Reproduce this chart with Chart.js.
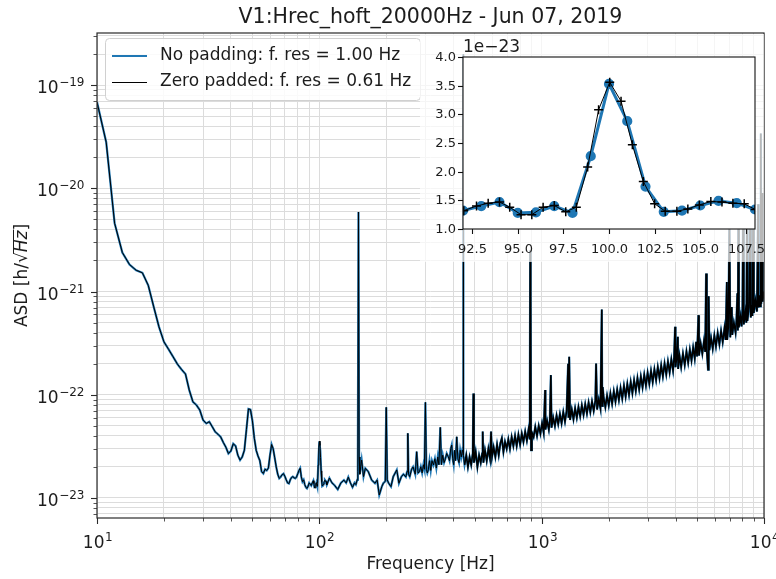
<!DOCTYPE html>
<html>
<head>
<meta charset="utf-8">
<title>V1 ASD</title>
<script src="https://cdn.jsdelivr.net/npm/chart.js@4.4.1/dist/chart.umd.min.js"></script>
<style>
  html, body { margin: 0; padding: 0; background: #fff; }
  #wrap { position: relative; width: 776px; height: 579px; }
  #main { position: absolute; left: 0; top: 0; }
  #inset { position: absolute; left: 420px; top: 34px; }
</style>
</head>
<body>
<div id="wrap">
  <canvas id="main" width="776" height="579"></canvas>
  <canvas id="inset" width="344" height="228"></canvas>
</div>
<script>
// ASD values are written in units of 1e-23 1/sqrt(Hz)
const UNIT = 1e-23;

// low frequency wall, 1 Hz bins
const lowFreq = [10, 11, 12, 13, 14, 15, 16, 17, 18, 19, 20, 21, 22, 23, 24, 25, 26, 27, 28, 29,
  30, 31, 32, 33, 34, 35, 36, 37, 38, 39, 40, 41, 42, 43, 44, 45, 46, 47, 48, 49,
  50, 51, 52, 53, 54, 55, 56, 57, 58, 59, 60, 61, 62, 63, 64, 65, 66, 67, 68, 69,
  70, 71, 72, 73, 74, 75, 76, 77, 78, 79, 80, 81, 82, 83, 84, 85, 86, 87, 88, 89, 90, 91];
const lowAsd = [6850, 2800, 460, 239, 183, 161, 152, 115, 71, 45.5,
  32.6, 27.5, 23.3, 19.8, 17.6, 15.9, 11.1, 8.55, 7.95, 7.11,
  5.69, 5.28, 5.48, 4.9, 4.38, 4.15, 3.9, 3.45, 3.1, 2.7,
  2.85, 3.35, 3.2, 2.6, 2.33, 2.5, 2.9, 4.6, 7.3, 7.2,
  5.6, 3.8, 2.9, 2.55, 2.3, 1.8, 1.73, 1.9, 1.85, 1.95,
  2.6, 3.3, 3.0, 2.45, 2.0, 1.7, 1.55, 1.6, 1.68, 1.72,
  1.62, 1.5, 1.4, 1.38, 1.5, 1.58, 1.61, 1.57, 1.55, 1.6,
  1.72, 1.85, 1.94, 1.6, 1.44, 1.5, 1.35, 1.27, 1.24, 1.3, 1.4, 1.36];

// the 100 Hz line (also the inset)
const zoomFreqNoPad = [92, 93, 94, 95, 96, 97, 98, 99, 100, 101, 102, 103, 104, 105, 106, 107, 108];
const zoomAsdNoPad = [1.32, 1.40, 1.47, 1.28, 1.29, 1.40, 1.28, 2.27, 3.53, 2.88, 1.74, 1.30, 1.32, 1.41, 1.49, 1.45, 1.34];
const zoomFreqPadded = [92.04, 92.74, 93.38, 94.0, 94.56, 95.18, 95.77, 96.39, 97.0, 97.63, 98.21, 98.83, 99.43,
  100.04, 100.66, 101.28, 101.88, 102.5, 103.08, 103.72, 104.32, 104.95, 105.58, 106.19, 106.79, 107.41, 108.01];
const zoomAsdPadded = [1.32, 1.40, 1.45, 1.47, 1.38, 1.25, 1.25, 1.38, 1.41, 1.30, 1.38, 2.08, 3.08,
  3.56, 3.23, 2.47, 1.83, 1.44, 1.31, 1.31, 1.35, 1.42, 1.48, 1.47, 1.45, 1.44, 1.34];

// floor with lines, 110 - 445 Hz
const midFreq = [111, 114, 117, 121, 125, 129, 132, 135, 138, 141,
  144, 146, 148, 149, 150, 151, 152, 155, 158, 161,
  166, 172, 178, 182, 186, 191, 194, 198, 200, 202,
  205, 210, 215, 223, 228, 234, 239, 245, 248, 250,
  252, 255, 260, 264, 270, 274, 278, 282, 286, 290,
  294, 297, 300, 303, 306, 309, 313, 317, 321, 326,
  331, 336, 341, 345, 350, 354, 359, 364, 369, 374,
  380, 385, 390, 394, 398, 402, 406, 410, 415, 420,
  425, 430, 435, 440, 443, 444, 445];
const midAsd = [1.56, 1.4, 1.33, 1.21, 1.4, 1.49, 1.4, 1.59, 1.4, 1.27,
  1.4, 1.35, 1.5, 1.8, 590, 2.5, 1.7, 2.33, 1.61, 1.94,
  1.8, 1.49, 1.39, 1.49, 1.07, 1.29, 1.39, 1.45, 7.55, 1.5,
  1.39, 1.29, 1.61, 1.87, 1.39, 1.61, 1.7, 1.6, 1.8, 4.23,
  1.7, 1.61, 1.9, 2.0, 1.7, 2.81, 1.75, 1.8, 2.01, 1.75,
  2.1, 1.9, 8.44, 1.9, 1.75, 1.87, 2.3, 1.85, 2.3, 2.09,
  2.4, 1.95, 2.5, 2.1, 4.83, 2.1, 2.6, 2.2, 2.4, 2.7,
  2.51, 2.3, 3.0, 3.26, 2.4, 2.1, 2.9, 2.3, 3.92, 2.4,
  2.2, 2.9, 2.5, 2.9, 2.8, 19900, 2.6];

// rising noisy band, 450 Hz - 10 kHz
const highFreq = [450, 458, 466, 474, 482, 490, 493, 496, 505, 514, 523, 532, 540, 543, 547, 556, 566, 576, 586, 592,
  598, 608, 619, 630, 641, 652, 662, 673, 684, 696, 708, 720, 733, 746, 759, 772, 786, 800, 814, 828,
  843, 858, 873, 884, 888, 892, 896, 904, 920, 936, 953, 970, 987, 1004, 1021, 1036, 1040, 1058, 1077, 1088,
  1100, 1108, 1127, 1147, 1167, 1187, 1208, 1229, 1251, 1273, 1295, 1315, 1320, 1330, 1342, 1366, 1390, 1414, 1439, 1464,
  1490, 1516, 1543, 1570, 1598, 1626, 1655, 1684, 1714, 1744, 1757, 1775, 1806, 1838, 1864, 1872, 1882, 1900, 1934, 1968,
  2003, 2038, 2074, 2111, 2148, 2186, 2225, 2264, 2304, 2345, 2386, 2428, 2471, 2515, 2559, 2604, 2650, 2697, 2745, 2793,
  2843, 2893, 2944, 2996, 3049, 3103, 3158, 3214, 3271, 3329, 3388, 3448, 3509, 3571, 3634, 3698, 3763, 3830, 3898, 3940,
  3981, 4000, 4050, 4098, 4110, 4170, 4240, 4320, 4400, 4480, 4560, 4640, 4720, 4800, 4880, 4951, 5000, 5070, 5100, 5190,
  5280, 5370, 5440, 5490, 5530, 5600, 5640, 5680, 5780, 5880, 5980, 6080, 6190, 6300, 6410, 6520, 6640, 6720, 6805, 6830,
  6910, 6990, 7050, 7161, 7200, 7320, 7450, 7520, 7590, 7630, 7670, 7710, 7850, 7930, 8000, 8054, 8110, 8250, 8330, 8395,
  8420, 8560, 8660, 8720, 8800, 8870, 8933, 9000, 9150, 9300, 9408, 9450, 9530, 9600, 9674, 9720, 9806, 9870, 9950, 10000];
const highAsd = [2.1, 2.6, 2.0, 2.5, 2.1, 2.7, 10.3, 2.2, 2.8, 2.0, 2.6, 2.2, 2.7, 4.4, 2.2, 2.9, 2.3, 3.0, 2.4, 4.4,
  2.5, 3.1, 2.5, 3.3, 2.6, 3.4, 3.8, 2.8, 3.5, 3.0, 3.7, 3.0, 3.9, 3.2, 4.0, 3.2, 4.1, 3.3, 4.2, 3.5,
  4.4, 3.6, 4.6, 3.7, 250, 92, 2.9, 4.3, 3.9, 4.9, 4.0, 5.0, 4.2, 5.3, 4.3, 11.1, 4.6, 5.6, 4.6, 5.6,
  15.5, 4.8, 6.0, 5.0, 6.3, 5.2, 6.5, 5.3, 6.8, 5.5, 7.0, 20, 6.0, 23.3, 5.7, 7.2, 5.8, 7.4, 6.0, 7.6,
  6.2, 7.9, 6.4, 8.1, 6.6, 8.4, 6.8, 8.6, 7.0, 8.8, 20.1, 7.2, 9.0, 7.4, 67, 7.8, 11.9, 9.4, 7.6, 9.8,
  7.9, 10.3, 8.2, 10.8, 8.6, 11.2, 8.9, 11.6, 9.2, 12.2, 9.6, 12.7, 10.0, 13.3, 10.4, 13.8, 10.9, 14.5, 11.3, 15.0,
  11.8, 15.6, 12.3, 16.3, 12.8, 17.0, 13.3, 17.6, 13.9, 18.5, 14.5, 19.3, 15.1, 20.1, 15.8, 21.0, 16.5, 22.0, 17.2, 22.5,
  45.5, 18.5, 23.0, 36.4, 17.8, 23.8, 18.6, 25.0, 19.5, 26.2, 20.5, 27.3, 21.5, 28.6, 22.5, 32.6, 23.5, 59.1, 24.0, 31.5,
  25.0, 33.0, 26.0, 150, 27.0, 17.5, 90.3, 27.0, 35.5, 28.0, 37.5, 29.5, 39.5, 31.0, 41.5, 32.5, 44.0, 34.0, 124, 34.0,
  45.0, 500, 36.0, 71, 38.0, 50.0, 40.0, 53.0, 96, 42.0, 600, 45.0, 58.0, 46.0, 60.0, 700, 48.0, 64.0, 50.0, 800,
  52.0, 70.0, 500, 56.0, 74.0, 58.0, 600, 62.0, 82.0, 64.0, 700, 70.0, 92.0, 72.0, 3400, 76.0, 900, 80.0, 100.0, 85.0];

// axes
const xTickExponents = [1, 2, 3, 4];
const yTickExponents = [-23, -22, -21, -20, -19];
const minorMultipliers = [2, 3, 4, 5, 6, 7, 8, 9];
const insetXTicks = [92.5, 95.0, 97.5, 100.0, 102.5, 105.0, 107.5];
const insetYTicks = [1.0, 1.5, 2.0, 2.5, 3.0, 3.5, 4.0];

const titleText = 'V1:Hrec_hoft_20000Hz - Jun 07, 2019';
const labelNoPad = 'No padding: f. res = 1.00 Hz';
const labelPadded = 'Zero padded: f. res = 0.61 Hz';

const FONT = '"DejaVu Sans", sans-serif';
const BLUE = '#1f77b4';
const TXT = '#1c1c1c';

function pts(freqs, vals, k) {
  return freqs.map((f, i) => ({ x: f, y: vals[i] * k }));
}

const noPadding = [].concat(pts(lowFreq, lowAsd, UNIT), pts(zoomFreqNoPad, zoomAsdNoPad, UNIT),
  pts(midFreq, midAsd, UNIT), pts(highFreq, highAsd, UNIT));
const zeroPadded = [].concat(pts(lowFreq, lowAsd, UNIT), pts(zoomFreqPadded, zoomAsdPadded, UNIT),
  pts(midFreq, midAsd, UNIT), pts(highFreq, highAsd, UNIT));

function logTicks(exps, lo, hi) {
  const out = [];
  for (let e = exps[0] - 1; e <= exps[exps.length - 1]; e++) {
    [1].concat(minorMultipliers).forEach(m => {
      const v = m * Math.pow(10, e);
      if (v >= lo * 0.999999 && v <= hi * 1.000001) out.push({ value: v, major: m === 1, exp: e });
    });
  }
  return out;
}

function powLabel(ctx, exp, x, y, align) {
  const base = '10', sup = String(exp).replace('-', '\u2212');
  ctx.font = '17px ' + FONT;
  const wb = ctx.measureText(base).width;
  ctx.font = '12px ' + FONT;
  const ws = ctx.measureText(sup).width;
  const x0 = align === 'center' ? x - (wb + ws) / 2 : x - (wb + ws);
  ctx.textAlign = 'left';
  ctx.textBaseline = 'alphabetic';
  ctx.font = '17px ' + FONT;
  ctx.fillText(base, x0, y);
  ctx.font = '12px ' + FONT;
  ctx.fillText(sup, x0 + wb + 0.5, y - 7.5);
}

const mainDecor = {
  id: 'mainDecor',
  beforeDraw(chart) {
    const ctx = chart.ctx;
    ctx.save();
    ctx.fillStyle = '#fff';
    ctx.fillRect(0, 0, chart.width, chart.height);
    ctx.restore();
  },
  afterDraw(chart) {
    const ctx = chart.ctx, a = chart.chartArea;
    const xs = chart.scales.x, ys = chart.scales.y;
    ctx.save();
    ctx.fillStyle = TXT;
    ctx.strokeStyle = '#2a2a2a';

    // tick marks
    xs.ticks.forEach(t => {
      const px = Math.round(xs.getPixelForValue(t.value)) + 0.5;
      ctx.lineWidth = t.major ? 1.1 : 0.8;
      ctx.beginPath();
      ctx.moveTo(px, a.bottom);
      ctx.lineTo(px, a.bottom + (t.major ? 6 : 3.5));
      ctx.stroke();
      if (t.major) powLabel(ctx, t.exp, px, a.bottom + 30, 'center');
    });
    ys.ticks.forEach(t => {
      const py = Math.round(ys.getPixelForValue(t.value)) + 0.5;
      ctx.lineWidth = t.major ? 1.1 : 0.8;
      ctx.beginPath();
      ctx.moveTo(a.left, py);
      ctx.lineTo(a.left - (t.major ? 6 : 3.5), py);
      ctx.stroke();
      if (t.major) powLabel(ctx, t.exp, a.left - 13, py + 7.5, 'right');
    });

    // frame
    ctx.lineWidth = 1.2;
    ctx.strokeRect(a.left, a.top, a.right - a.left, a.bottom - a.top);

    // title
    ctx.font = '20.5px ' + FONT;
    ctx.textAlign = 'center';
    ctx.textBaseline = 'alphabetic';
    ctx.fillText(titleText, (a.left + a.right) / 2, 23);

    // x title
    ctx.font = '17px ' + FONT;
    ctx.textBaseline = 'middle';
    ctx.fillText('Frequency [Hz]', (a.left + a.right) / 2, 565);

    // y title: ASD [h/sqrt(Hz)]
    ctx.save();
    ctx.translate(21, (a.top + a.bottom) / 2);
    ctx.rotate(-Math.PI / 2);
    ctx.textBaseline = 'alphabetic';
    ctx.textAlign = 'left';
    const pNorm = '17px ' + FONT, pIt = 'italic 17px ' + FONT;
    ctx.font = pNorm;
    const w1 = ctx.measureText('ASD [h/').width;
    const w2 = ctx.measureText('\u221a').width;
    const w4 = ctx.measureText(']').width;
    ctx.font = pIt;
    const w3 = ctx.measureText('Hz').width;
    let cx = -(w1 + w2 + w3 + w4) / 2;
    const bl = 6;
    ctx.font = pNorm;
    ctx.fillText('ASD [h/', cx, bl); cx += w1;
    ctx.fillText('\u221a', cx, bl); cx += w2;
    ctx.font = pIt;
    ctx.fillText('Hz', cx, bl);
    ctx.lineWidth = 1;
    ctx.strokeStyle = TXT;
    ctx.beginPath();
    ctx.moveTo(cx - 1.5, bl - 13.5);
    ctx.lineTo(cx + w3 + 1, bl - 13.5);
    ctx.stroke();
    cx += w3;
    ctx.font = pNorm;
    ctx.fillText(']', cx, bl);
    ctx.restore();

    // legend
    ctx.beginPath();
    ctx.roundRect(105.5, 38.5, 315, 62, 4);
    ctx.fillStyle = 'rgba(255,255,255,0.85)';
    ctx.fill();
    ctx.strokeStyle = '#d0d0d0';
    ctx.lineWidth = 1;
    ctx.stroke();
    ctx.lineWidth = 2.2;
    ctx.strokeStyle = BLUE;
    ctx.beginPath(); ctx.moveTo(112, 56); ctx.lineTo(147, 56); ctx.stroke();
    ctx.lineWidth = 1;
    ctx.strokeStyle = '#000';
    ctx.beginPath(); ctx.moveTo(112, 82.5); ctx.lineTo(147, 82.5); ctx.stroke();
    ctx.fillStyle = TXT;
    ctx.font = '17px ' + FONT;
    ctx.textAlign = 'left';
    ctx.textBaseline = 'middle';
    ctx.fillText(labelNoPad, 160, 56);
    ctx.fillText(labelPadded, 160, 82);
    ctx.restore();
  }
};

new Chart(document.getElementById('main'), {
  type: 'line',
  data: {
    datasets: [
      { label: labelPadded, data: zeroPadded, borderColor: '#000', borderWidth: 1, pointRadius: 0, order: 0,
        // the finer bins fill the noisy band more densely
        segment: { borderWidth: c => (c.p0.parsed.x >= 450 ? 1.6 : 1) } },
      { label: labelNoPad, data: noPadding, borderColor: BLUE, borderWidth: 2.2, pointRadius: 0, order: 1 }
    ]
  },
  options: {
    responsive: false,
    animation: false,
    devicePixelRatio: 1,
    layout: { padding: { top: 33, right: 12, left: 0, bottom: 0 } },
    elements: { line: { tension: 0 } },
    plugins: { legend: { display: false }, tooltip: { enabled: false }, title: { display: false } },
    scales: {
      x: {
        type: 'logarithmic', min: 10, max: 10000,
        afterBuildTicks: s => { s.ticks = logTicks(xTickExponents, 10, 10000); },
        afterFit: s => { s.height = 61; },
        ticks: { display: false, autoSkip: false },
        grid: { color: '#dcdcdc', lineWidth: 1, drawTicks: false },
        border: { display: false }
      },
      y: {
        type: 'logarithmic', min: 6.4e-24, max: 3.2e-19,
        afterBuildTicks: s => { s.ticks = logTicks(yTickExponents, 6.4e-24, 3.2e-19); },
        afterFit: s => { s.width = 97; },
        ticks: { display: false, autoSkip: false },
        grid: { color: '#dcdcdc', lineWidth: 1, drawTicks: false },
        border: { display: false }
      }
    }
  },
  plugins: [mainDecor]
});

// inset around the 100 Hz line
const insetDecor = {
  id: 'insetDecor',
  beforeDraw(chart) {
    const ctx = chart.ctx, a = chart.chartArea;
    ctx.save();
    ctx.fillStyle = 'rgba(255,255,255,0.72)';
    ctx.fillRect(0, 0, chart.width, chart.height);
    ctx.fillStyle = '#fff';
    ctx.fillRect(a.left, a.top, a.right - a.left, a.bottom - a.top);
    ctx.restore();
  },
  afterDraw(chart) {
    const ctx = chart.ctx, a = chart.chartArea;
    const xs = chart.scales.x, ys = chart.scales.y;
    ctx.save();
    ctx.strokeStyle = '#111';
    ctx.fillStyle = TXT;
    ctx.lineWidth = 1.1;
    ctx.strokeRect(a.left, a.top, a.right - a.left, a.bottom - a.top);
    ctx.font = '13px ' + FONT;
    ctx.textAlign = 'center';
    ctx.textBaseline = 'alphabetic';
    insetXTicks.forEach(v => {
      const px = Math.round(xs.getPixelForValue(v)) + 0.5;
      ctx.beginPath(); ctx.moveTo(px, a.bottom); ctx.lineTo(px, a.bottom + 5); ctx.stroke();
      ctx.fillText(v.toFixed(1), px, a.bottom + 24);
    });
    ctx.textAlign = 'right';
    ctx.textBaseline = 'middle';
    insetYTicks.forEach(v => {
      const py = Math.round(ys.getPixelForValue(v)) + 0.5;
      ctx.beginPath(); ctx.moveTo(a.left, py); ctx.lineTo(a.left - 5, py); ctx.stroke();
      ctx.fillText(v.toFixed(1), a.left - 7, py);
    });
    ctx.font = '17px ' + FONT;
    ctx.textAlign = 'left';
    ctx.textBaseline = 'alphabetic';
    ctx.fillText('1e\u221223', a.left, a.top - 5);
    ctx.restore();
  }
};

new Chart(document.getElementById('inset'), {
  type: 'line',
  data: {
    datasets: [
      { data: pts(zoomFreqPadded, zoomAsdPadded, 1), borderColor: '#000', borderWidth: 1,
        pointStyle: 'cross', pointRadius: 4.5, pointBorderColor: '#000', pointBorderWidth: 1.5, order: 0 },
      { data: pts(zoomFreqNoPad, zoomAsdNoPad, 1), borderColor: BLUE, borderWidth: 3,
        pointStyle: 'circle', pointRadius: 3.6, pointBackgroundColor: BLUE, pointBorderColor: BLUE, order: 1 }
    ]
  },
  options: {
    responsive: false,
    animation: false,
    devicePixelRatio: 1,
    layout: { padding: { top: 23, right: 9, left: 0, bottom: 0 } },
    elements: { line: { tension: 0 } },
    plugins: { legend: { display: false }, tooltip: { enabled: false } },
    scales: {
      x: {
        type: 'linear', min: 92, max: 108,
        afterBuildTicks: s => { s.ticks = insetXTicks.map(v => ({ value: v })); },
        afterFit: s => { s.height = 33; },
        ticks: { display: false },
        grid: { display: false },
        border: { display: false }
      },
      y: {
        type: 'linear', min: 1, max: 4,
        afterBuildTicks: s => { s.ticks = insetYTicks.map(v => ({ value: v })); },
        afterFit: s => { s.width = 43; },
        ticks: { display: false },
        grid: { display: false },
        border: { display: false }
      }
    }
  },
  plugins: [insetDecor]
});
</script>
</body>
</html>
